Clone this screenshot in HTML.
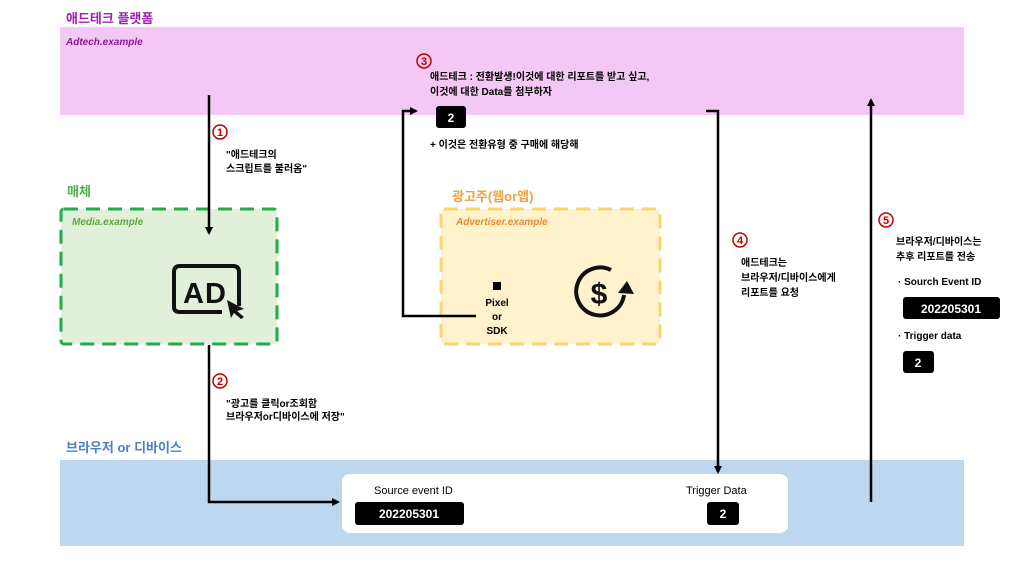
<!DOCTYPE html>
<html><head><meta charset="utf-8"><style>
body{margin:0;width:1024px;height:576px;background:#fff;overflow:hidden;font-family:"Liberation Sans","Noto Sans CJK KR",sans-serif;}
svg text{font-family:"Liberation Sans","Noto Sans CJK KR",sans-serif;}
</style></head><body>
<svg width="1024" height="576" viewBox="0 0 1024 576" xmlns="http://www.w3.org/2000/svg">
<defs><marker id="ah" markerWidth="8" markerHeight="8" refX="6" refY="4" orient="auto" markerUnits="userSpaceOnUse"><path d="M0,0 L8,4 L0,8 z" fill="#000"/></marker></defs>
<rect x="60" y="27" width="904" height="88" fill="#f4c8f4"/>
<rect x="60" y="460" width="904" height="86" fill="#bdd7ee"/>
<text x="66" y="23" font-size="13" font-weight="bold" fill="#a020b0">애드테크 플랫폼</text>
<text x="66" y="45" font-size="10" font-weight="bold" font-style="italic" fill="#8a1a9a">Adtech.example</text>
<text x="66" y="452" font-size="13" font-weight="bold" fill="#4a80c8">브라우저 or 디바이스</text>
<rect x="61" y="209" width="216" height="135" rx="3" fill="#e2efd9" stroke="#1fae4a" stroke-width="3" stroke-dasharray="14,8"/>
<text x="67" y="196" font-size="13" font-weight="bold" fill="#4caf50">매체</text>
<text x="72" y="225" font-size="10" font-weight="bold" font-style="italic" fill="#5aaa3c">Media.example</text>
<path d="M239,306 V272 Q239,266 233,266 H180 Q174,266 174,272 V307 Q174,312 180,312 H222" fill="none" stroke="#111" stroke-width="4"/>
<text x="183" y="303" font-size="29" font-weight="bold" fill="#111" letter-spacing="1">AD</text>
<path d="M227,300 L244,309 L237,311 L244,317 L241,319 L234,313 L231,318 z" fill="#111"/>
<rect x="441" y="209" width="219" height="135" rx="3" fill="#fff2cc" stroke="#f9d66b" stroke-width="3" stroke-dasharray="14,8"/>
<text x="452" y="201" font-size="13" font-weight="bold" fill="#f0a040">광고주(웹or앱)</text>
<text x="456" y="225" font-size="10" font-weight="bold" font-style="italic" fill="#e88a30">Advertiser.example</text>
<rect x="493" y="282" width="8" height="8" fill="#000"/>
<text x="497" y="306" font-size="10" font-weight="bold" text-anchor="middle">Pixel</text>
<text x="497" y="320" font-size="10" font-weight="bold" text-anchor="middle">or</text>
<text x="497" y="334" font-size="10" font-weight="bold" text-anchor="middle">SDK</text>
<path d="M611,270 A24,24 0 1 0 624,295" fill="none" stroke="#111" stroke-width="4"/>
<path d="M618,293 L627,281 L634,294 z" fill="#111"/>
<text x="599" y="304" font-size="30" font-weight="bold" text-anchor="middle" fill="#111">$</text>
<rect x="342" y="474" width="446" height="59" rx="8" fill="#fff"/>
<text x="374" y="494" font-size="11" fill="#000">Source event ID</text>
<rect x="355" y="502" width="109" height="23" rx="3" fill="#000"/>
<text x="409" y="518" font-size="12" font-weight="bold" fill="#fff" text-anchor="middle">202205301</text>
<text x="686" y="494" font-size="11" fill="#000">Trigger Data</text>
<rect x="707" y="502" width="32" height="23" rx="3" fill="#000"/>
<text x="723" y="518" font-size="12" font-weight="bold" fill="#fff" text-anchor="middle">2</text>
<g stroke="#000" stroke-width="2.5" fill="none">
<path d="M209,95 V233" marker-end="url(#ah)"/>
<path d="M209,345 V502 H338" marker-end="url(#ah)"/>
<path d="M476,316 H403 V111 H416" marker-end="url(#ah)"/>
<path d="M706,111 H718 V472" marker-end="url(#ah)"/>
<path d="M871,502 V100" marker-end="url(#ah)"/>
</g>
<g fill="none" stroke="#c00000" stroke-width="1.5">
<circle cx="220" cy="132" r="7"/><circle cx="220" cy="381" r="7"/><circle cx="424" cy="61" r="7"/><circle cx="740" cy="240" r="7"/><circle cx="886" cy="220" r="7"/>
</g>
<g font-weight="bold" fill="#c00000" font-size="11" text-anchor="middle">
<text x="220" y="136">1</text><text x="220" y="385">2</text><text x="424" y="65">3</text><text x="740" y="244">4</text><text x="886" y="224">5</text>
</g>
<g font-size="10" font-weight="bold" fill="#000">
<text x="226" y="158">"애드테크의</text><text x="226" y="172">스크립트를 불러옴"</text>
<text x="226" y="407">"광고를 클릭or조회함</text><text x="226" y="420">브라우저or디바이스에 저장"</text>
<text x="430" y="80">애드테크 : 전환발생!이것에 대한 리포트를 받고 싶고,</text>
<text x="430" y="95">이것에 대한 Data를 첨부하자</text>
<text x="430" y="148">+ 이것은 전환유형 중 구매에 해당해</text>
<text x="741" y="266">애드테크는</text><text x="741" y="281">브라우저/디바이스에게</text><text x="741" y="296">리포트를 요청</text>
<text x="896" y="245">브라우저/디바이스는</text><text x="896" y="260">추후 리포트를 전송</text>
<text x="898" y="285">·   Sourch Event ID</text>
<text x="898" y="339">·   Trigger data</text>
</g>
<rect x="436" y="106" width="30" height="22" rx="3" fill="#000"/>
<text x="451" y="122" font-size="12" font-weight="bold" fill="#fff" text-anchor="middle">2</text>
<rect x="903" y="297" width="97" height="22" rx="3" fill="#000"/>
<text x="951" y="313" font-size="12" font-weight="bold" fill="#fff" text-anchor="middle">202205301</text>
<rect x="903" y="351" width="31" height="22" rx="3" fill="#000"/>
<text x="918" y="367" font-size="12" font-weight="bold" fill="#fff" text-anchor="middle">2</text>
</svg>
</body></html>
